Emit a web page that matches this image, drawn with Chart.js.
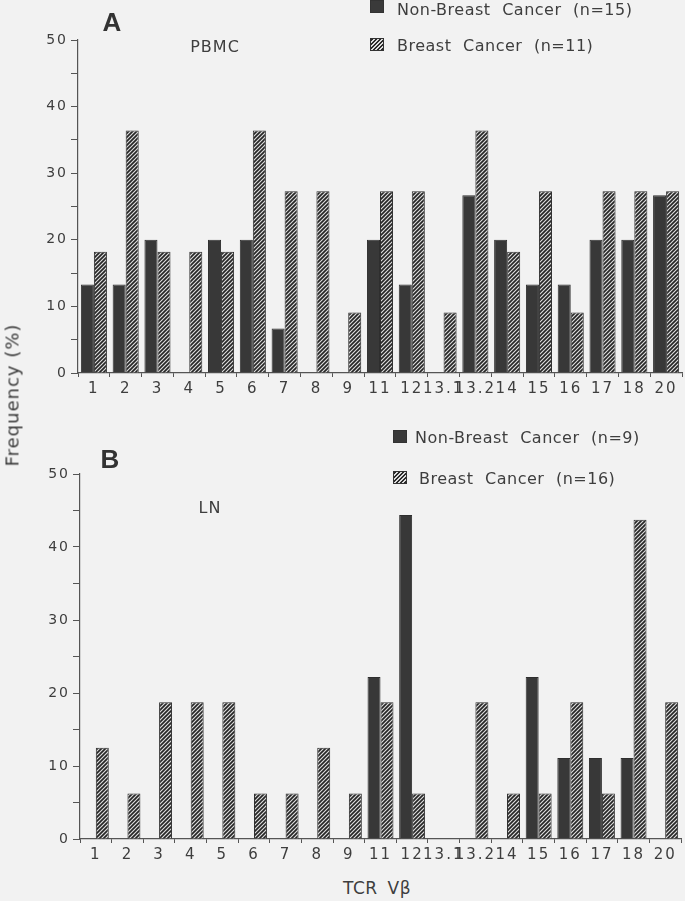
<!DOCTYPE html>
<html>
<head>
<meta charset="utf-8">
<script src="https://cdn.jsdelivr.net/npm/chart.js@4.4.0/dist/chart.umd.min.js"></script>
<style>
    body {
        margin: 0;
        width: 685px;
        height: 901px;
        overflow: hidden;
        position: relative;
        background: #f2f2f2;
        font-family: "DejaVu Sans", sans-serif;
        color: #3e3e3e;
    }
    canvas { position: absolute; left: 0; }
    .txt { position: absolute; white-space: nowrap; }
    .center { transform: translate(-50%, -50%); }
    .panel { font-family: "Liberation Sans", Arial, sans-serif; font-weight: bold; font-size: 26px; color: #333; }
    .sub { font-size: 16px; letter-spacing: 1px; }
    .leg { font-size: 16px; letter-spacing: 0.5px; word-spacing: 6px; transform: translateY(-50%); }
    .sq { position: absolute; width: 14px; height: 13px; box-sizing: border-box; border: 1px solid #333; }
    .sq.dark { background: #3a3a3a; }
    .sq.hatch { background: repeating-linear-gradient(135deg, #2a2a2a 0 1.6px, #dcdcdc 1.6px 2.9px); }
</style>
</head>
<body>

<canvas id="chartA" width="685" height="400" style="top:0"></canvas>
<canvas id="chartB" width="685" height="440" style="top:430px"></canvas>

<!-- Panel A text -->
<div class="txt center panel" style="left:112px; top:22px">A</div>
<div class="txt center sub" style="left:215px; top:46px">PBMC</div>
<div class="sq dark" style="left:370px; top:0px"></div>
<div class="txt leg" style="left:397px; top:9px">Non-Breast Cancer (n=15)</div>
<div class="sq hatch" style="left:370px; top:38px"></div>
<div class="txt leg" style="left:397px; top:45px">Breast Cancer (n=11)</div>

<!-- Panel B text -->
<div class="txt center panel" style="left:110px; top:459px">B</div>
<div class="txt center sub" style="left:210px; top:507px">LN</div>
<div class="sq dark" style="left:393px; top:430px"></div>
<div class="txt leg" style="left:415px; top:437px">Non-Breast Cancer (n=9)</div>
<div class="sq hatch" style="left:393px; top:471px"></div>
<div class="txt leg" style="left:419px; top:478px">Breast Cancer (n=16)</div>

<!-- Axis titles -->
<div class="txt center" style="left:12px; top:395px; font-size:18px; letter-spacing:1px; color:#3a3a3a; transform:translate(-50%,-50%) rotate(-90deg)">Frequency (%)</div>
<div class="txt center" style="left:377px; top:888px; font-size:17px; letter-spacing:0.5px; word-spacing:4px">TCR Vβ</div>

<script>
// TCR V-beta families on the x axis
const categories = ['1', '2', '3', '4', '5', '6', '7', '8', '9', '11', '12', '13.1', '13.2', '14', '15', '16', '17', '18', '20'];

// Panel A - PBMC (%)
const pbmcNonBreast = [13.3, 13.3, 20, 0, 20, 20, 6.7, 0, 0, 20, 13.3, 0, 26.7, 20, 13.3, 13.3, 20, 20, 26.7];
const pbmcBreast = [18.2, 36.4, 18.2, 18.2, 18.2, 36.4, 27.3, 27.3, 9.1, 27.3, 27.3, 9.1, 36.4, 18.2, 27.3, 9.1, 27.3, 27.3, 27.3];

// Panel B - LN (%)
const lnNonBreast = [0, 0, 0, 0, 0, 0, 0, 0, 0, 22.2, 44.4, 0, 0, 0, 22.2, 11.1, 11.1, 11.1, 0];
const lnBreast = [12.5, 6.25, 18.75, 18.75, 18.75, 6.25, 6.25, 12.5, 6.25, 18.75, 6.25, 0, 18.75, 6.25, 6.25, 18.75, 6.25, 43.75, 18.75];

const INK = '#383838';
const AXIS = '#555';

// diagonal hatch fill for the breast cancer bars
function makeHatch() {
    const c = document.createElement('canvas');
    c.width = 4;
    c.height = 4;
    const g = c.getContext('2d');
    g.fillStyle = '#dedede';
    g.fillRect(0, 0, 4, 4);
    g.strokeStyle = '#262626';
    g.lineWidth = 1.7;
    g.beginPath();
    g.moveTo(0, 4); g.lineTo(4, 0);
    g.moveTo(-1, 1); g.lineTo(1, -1);
    g.moveTo(3, 5); g.lineTo(5, 3);
    g.stroke();
    return g.createPattern(c, 'repeat');
}
const hatch = makeHatch();

// spaced-out tick digits like the original
const spacing = {
    id: 'spacing',
    beforeUpdate(chart) { chart.ctx.letterSpacing = '2px'; },
    beforeDraw(chart) { chart.ctx.letterSpacing = '2px'; }
};

function makeChart(id, nonBreast, breast, layout) {
    const ctx = document.getElementById(id).getContext('2d');
    return new Chart(ctx, {
        type: 'bar',
        data: {
            labels: categories,
            datasets: [
                {
                    label: 'Non-Breast Cancer',
                    data: nonBreast,
                    backgroundColor: INK,
                    borderColor: '#2e2e2e',
                    borderWidth: c => (c.raw ? 1 : 0)
                },
                {
                    label: 'Breast Cancer',
                    data: breast,
                    backgroundColor: hatch,
                    borderColor: '#2e2e2e',
                    borderWidth: c => (c.raw ? 1 : 0)
                }
            ]
        },
        options: {
            responsive: false,
            animation: false,
            layout: { padding: { top: layout.top, right: layout.right, left: 0, bottom: 0 } },
            datasets: { bar: { categoryPercentage: 0.82, barPercentage: 1.0, borderSkipped: 'bottom' } },
            plugins: { legend: { display: false }, tooltip: { enabled: false } },
            scales: {
                x: {
                    afterFit: s => { s.height = layout.xHeight; },
                    grid: { drawOnChartArea: false, offset: true, tickLength: 4, color: AXIS },
                    border: { color: AXIS, width: 1.2 },
                    ticks: {
                        autoSkip: false,
                        maxRotation: 0,
                        padding: 3,
                        color: '#3e3e3e',
                        font: { family: 'DejaVu Sans', size: 15 }
                    }
                },
                y: {
                    min: 0,
                    max: 50,
                    afterFit: s => { s.width = layout.left; },
                    grid: { drawOnChartArea: false, tickLength: 7, color: AXIS },
                    border: { color: AXIS, width: 1.2 },
                    ticks: {
                        stepSize: 5,
                        padding: 3,
                        color: '#3e3e3e',
                        font: { family: 'DejaVu Sans', size: 14 },
                        callback: v => (v % 10 === 0 ? v : '')
                    }
                }
            }
        },
        plugins: [spacing]
    });
}

makeChart('chartA', pbmcNonBreast, pbmcBreast, { top: 40, right: 3, left: 78, xHeight: 27 });
makeChart('chartB', lnNonBreast, lnBreast, { top: 44, right: 4, left: 80, xHeight: 31 });
</script>
</body>
</html>
